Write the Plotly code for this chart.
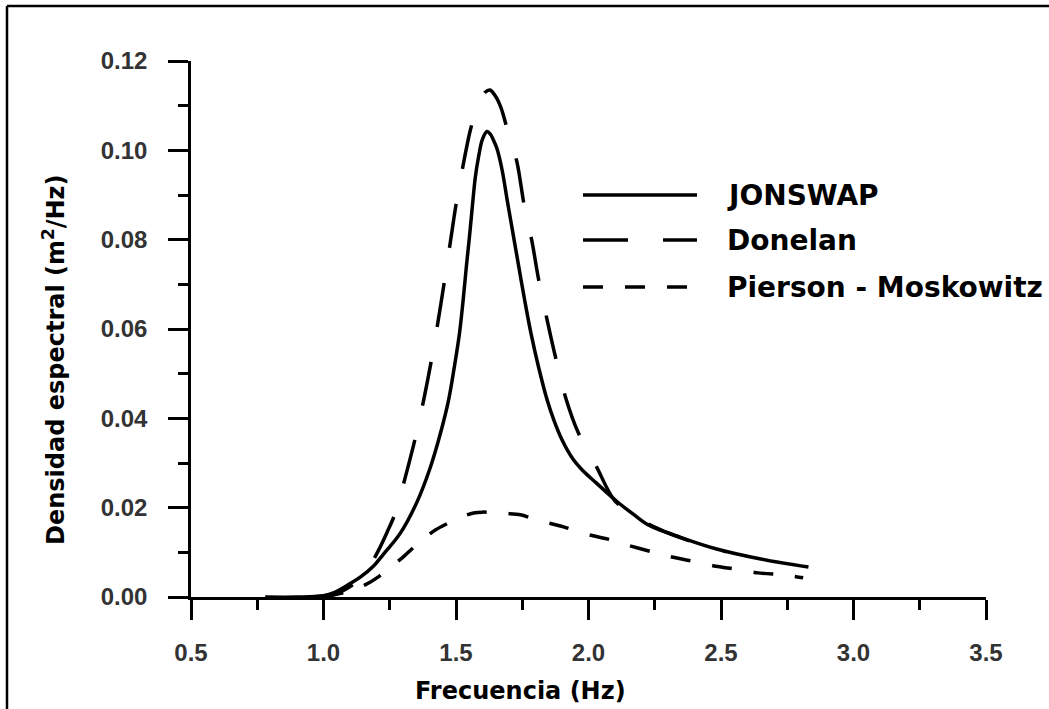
import plotly.graph_objects as go

# ---- data ----
jonswap_x = [0.78, 0.90, 1.00, 1.04, 1.10, 1.14, 1.19, 1.225, 1.29, 1.353, 1.403, 1.441,
             1.472, 1.494, 1.513, 1.527, 1.539, 1.552, 1.564, 1.573, 1.585, 1.60, 1.617,
             1.63, 1.642, 1.655, 1.674, 1.693, 1.715, 1.737, 1.759, 1.783, 1.811, 1.844,
             1.87, 1.90, 1.94, 1.98, 2.03, 2.105, 2.17, 2.23, 2.35, 2.48, 2.65, 2.83]
jonswap_y = [0.0, 0.0, 0.0003, 0.0010, 0.0030, 0.0045, 0.0070, 0.0095, 0.0143, 0.0213,
             0.0290, 0.0366, 0.0441, 0.0516, 0.0590, 0.0665, 0.0739, 0.0814, 0.0889, 0.0940,
             0.0985, 0.1025, 0.1042, 0.1036, 0.1022, 0.1003, 0.0956, 0.0889, 0.0814, 0.0739,
             0.0665, 0.0590, 0.0516, 0.0441, 0.0395, 0.0352, 0.0310, 0.0282, 0.0255, 0.0215,
             0.0185, 0.0160, 0.0133, 0.0108, 0.0085, 0.0067]

donelan_x = [0.95, 1.05, 1.126, 1.17, 1.208, 1.24, 1.271, 1.309, 1.346, 1.378, 1.405, 1.432,
             1.454, 1.478, 1.50, 1.527, 1.554, 1.585, 1.61, 1.628, 1.648, 1.67, 1.69, 1.731,
             1.756, 1.787, 1.812, 1.844, 1.875, 1.913, 1.962, 2.03, 2.10, 2.23, 2.37, 2.52]
donelan_y = [0.0, 0.0008, 0.0034, 0.0065, 0.0105, 0.0145, 0.0188, 0.0269, 0.0355, 0.0441,
             0.0523, 0.0616, 0.0698, 0.0792, 0.0878, 0.0967, 0.1045, 0.1105, 0.1130, 0.1135,
             0.1122, 0.1095, 0.1055, 0.0971, 0.0881, 0.0795, 0.0710, 0.0620, 0.0538, 0.0448,
             0.0367, 0.0292, 0.0215, 0.0162, 0.0128, 0.0101]

pierson_x = [1.0, 1.08, 1.157, 1.207, 1.25, 1.296, 1.338, 1.38, 1.422, 1.479, 1.52, 1.566,
             1.60, 1.637, 1.69, 1.743, 1.807, 1.906, 1.977, 2.07, 2.147, 2.24, 2.31, 2.41,
             2.48, 2.574, 2.64, 2.744, 2.81]
pierson_y = [0.0, 0.0010, 0.0027, 0.0045, 0.0066, 0.0087, 0.0110, 0.0131, 0.0150, 0.0168,
             0.0179, 0.0188, 0.0190, 0.0189, 0.0187, 0.0184, 0.0172, 0.0157, 0.0143, 0.0130,
             0.0116, 0.0101, 0.0090, 0.0078, 0.0069, 0.0061, 0.0054, 0.0049, 0.0043]

series_names = ["JONSWAP", "Donelan", "Pierson - Moskowitz"]
x_ticks = [0.5, 1.0, 1.5, 2.0, 2.5, 3.0, 3.5]
y_ticks = [0.00, 0.02, 0.04, 0.06, 0.08, 0.10, 0.12]
x_title = "Frecuencia (Hz)"
y_title = "Densidad espectral (m<sup>2</sup>/Hz)"

# ---- layout geometry ----
W, H = 1049, 709
L, R, T, B = 191, 986, 61, 597

def px(xp):
    return (xp - L) / (R - L)

def py(yp):
    return (B - yp) / (B - T)

LW = 3.5
dashes = ["solid", "45px,35px", "20px,22px"]
smooth = [1.0, 0.8, 0.8]
FONT = "DejaVu Sans"
TICKFONT = dict(family="Liberation Sans", size=24, color="#333333", weight="bold")

fig = go.Figure()
for xs, ys, name, d, s in zip([jonswap_x, donelan_x, pierson_x],
                              [jonswap_y, donelan_y, pierson_y], series_names, dashes, smooth):
    fig.add_trace(go.Scatter(x=xs, y=ys, mode="lines", name=name,
                             line=dict(color="black", width=LW, dash=d,
                                       shape="spline", smoothing=s),
                             showlegend=False))

axis_common = dict(showline=True, linecolor="black", linewidth=2.5, ticks="outside",
                   ticklen=20, tickwidth=2.5, tickcolor="black", showgrid=False,
                   zeroline=False, mirror=False, tickfont=TICKFONT)

fig.update_xaxes(range=[0.5, 3.5], tickvals=x_ticks,
                 ticktext=[f"{v:.1f}" for v in x_ticks], ticklabelstandoff=12,
                 minor=dict(ticks="outside", ticklen=10, tickwidth=2.5, tickcolor="black",
                            dtick=0.25, tick0=0.5, showgrid=False),
                 **axis_common)
fig.update_yaxes(range=[0, 0.12], tickvals=y_ticks,
                 ticktext=[f"{v:.2f}" for v in y_ticks], ticklabelstandoff=16,
                 minor=dict(ticks="outside", ticklen=10, tickwidth=2.5, tickcolor="black",
                            dtick=0.01, tick0=0, showgrid=False),
                 **axis_common)

annotations = [
    dict(text=f"<b>{x_title}</b>", x=px(520), y=py(691), xref="paper", yref="paper",
         xanchor="center", yanchor="middle", showarrow=False,
         font=dict(family=FONT, size=24, color="black")),
    dict(text=f"<b>{y_title}</b>", x=px(54), y=py(360), xref="paper", yref="paper",
         xanchor="center", yanchor="middle", showarrow=False, textangle=-90,
         font=dict(family=FONT, size=24, color="black")),
]
shapes = []
legend_rows = [195, 240, 287]
for name, d, yr in zip(series_names, dashes, legend_rows):
    shapes.append(dict(type="line", xref="paper", yref="paper",
                       x0=px(583), x1=px(697), y0=py(yr), y1=py(yr),
                       line=dict(color="black", width=LW, dash=d)))
    annotations.append(dict(text=f"<b>{name}</b>", x=px(725), y=py(yr), xref="paper",
                            yref="paper", xanchor="left", yanchor="middle", showarrow=False,
                            font=dict(family=FONT, size=28, color="black")))

# frame of the scanned figure (top and left edges)
shapes.append(dict(type="line", xref="paper", yref="paper", x0=px(7), x1=px(1049),
                   y0=py(6), y1=py(6), line=dict(color="black", width=2.5)))
shapes.append(dict(type="line", xref="paper", yref="paper", x0=px(7), x1=px(7),
                   y0=py(6), y1=py(709), line=dict(color="black", width=2.5)))

fig.update_layout(width=W, height=H, margin=dict(l=L, r=W - R, t=T, b=H - B),
                  paper_bgcolor="white", plot_bgcolor="white",
                  annotations=annotations, shapes=shapes, showlegend=False)

fig.write_html("out.html")
